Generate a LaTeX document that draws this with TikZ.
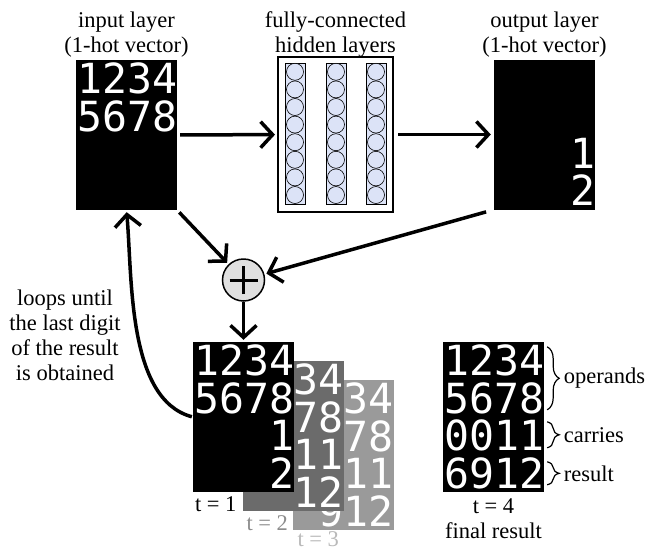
\documentclass[tikz,border=0pt]{standalone}
\usepackage{fontspec}
\setmainfont{Liberation Serif}
\newfontfamily\digitfont{DejaVu Sans Mono}
\usetikzlibrary{arrows.meta, positioning, calc, decorations.pathreplacing}

\definecolor{neuronfill}{HTML}{DCE3F7}
\definecolor{stepdark}{HTML}{6B6B6B}
\definecolor{steplight}{HTML}{9A9A9A}

\begin{document}
\begin{tikzpicture}[
    x=1pt, y=1pt,
    panel/.style={rectangle, fill=black, minimum width=101pt, minimum height=150pt, inner sep=0pt},
    digits/.style={font=\digitfont\fontsize{41.5}{37.5}\selectfont, text=white, inner sep=0pt, anchor=base east},
    caption/.style={font=\fontsize{22.5}{25}\selectfont, align=center, inner sep=1pt},
    neuronbar/.style={rectangle, draw=black, line width=0.6pt, fill=neuronfill, minimum width=20pt, minimum height=141pt, inner sep=0pt},
    neuron/.style={circle, draw=black, line width=0.6pt, fill=neuronfill, minimum size=17pt, inner sep=0pt},
    flow/.style={line width=3.5pt, -{Straight Barb[length=12pt, width=26pt]}},
    brace/.style={decorate, decoration={brace, amplitude=12pt}, line width=1.2pt}
]
\useasboundingbox (0,0) rectangle (645,-552);

% input / output layers
\node[panel] (in)  at (126.5,-135) {};
\node[panel] (out) at (544.5,-134.5) {};
\foreach \row [count=\i] in {1234,5678}
  \node[digits] (in-\i) at ($(in.north east)+(0,-37.5*\i+3.75)$) {\row};
\foreach \row [count=\i] in {{},{},1,2}
  \node[digits] (out-\i) at ($(out.north east)+(0,-37.5*\i+3.75)$) {\row};

% hidden layers
\node[rectangle, draw=black, line width=2pt, minimum width=115pt, minimum height=155pt] (hid) at (335.5,-134.5) {};
\foreach \cx [count=\c] in {295,336,376} {
  \node[neuronbar] (bar-\c) at (\cx,-133.5) {};
  \foreach \k in {1,...,8}
    \node[neuron] (n-\c-\k) at (\cx,{-71.8-17.6*(\k-1)}) {};
}

% captions
\node[caption, above=1pt of in] (in-label) {input layer\\(1-hot vector)};
\node[caption] (hid-label) at (in-label -| hid) {fully-connected\\hidden layers};
\node[caption] (out-label) at (in-label -| out) {output layer\\(1-hot vector)};

% adder
\node[circle, draw=black, line width=1.5pt, fill=gray!25, minimum size=42pt, inner sep=0pt] (plus) at (243.5,-280) {};
\draw[line width=3pt] ($(plus)+(-14,0)$) -- ($(plus)+(14,0)$);
\draw[line width=3pt] ($(plus)+(0,-14)$) -- ($(plus)+(0,14)$);

% steps t = 3, 2, 1
\node[panel, fill=steplight] (t3) at (343,-455) {};
\foreach \row [count=\i] in {1234,5678,011,912}
  \node[digits] (t3-\i) at ($(t3.north east)+(0,-37.5*\i+3.75)$) {\row};
\node[panel, fill=stepdark] (t2) at (293,-436) {};
\foreach \row [count=\i] in {1234,5678,11,12}
  \node[digits] (t2-\i) at ($(t2.north east)+(0,-37.5*\i+3.75)$) {\row};
\node[panel] (t1) at (243.5,-417) {};
\foreach \row [count=\i] in {1234,5678,1,2}
  \node[digits] (t1-\i) at ($(t1.north east)+(0,-37.5*\i+3.75)$) {\row};

\node[caption, anchor=north west] (t1-label) at ($(t1.south west)+(1,-3)$) {t = 1};
\node[caption, anchor=north west, text=gray!90] (t2-label) at ($(t2.south west)+(3,-3)$) {t = 2};
\node[caption, anchor=north west, text=gray!55] (t3-label) at ($(t3.south west)+(4,-0.5)$) {t = 3};

% final result
\node[panel] (fin) at (493.5,-417) {};
\foreach \row [count=\i] in {1234,5678,0011,6912}
  \node[digits] (fin-\i) at ($(fin.north east)+(0,-37.5*\i+3.75)$) {\row};
\node[caption, below=5pt of fin] (fin-label) {t = 4\\final result};

\draw[brace] ($(fin.north east)+(3,-5)$) -- ($(fin.north east)+(3,-68)$)
  node[caption, midway, anchor=west, xshift=15pt] (operands) {operands};
\draw[brace] ($(fin.north east)+(3,-80)$) -- ($(fin.north east)+(3,-106)$)
  node[caption, midway, anchor=west, xshift=15pt] (carries) {carries};
\draw[brace] ($(fin.north east)+(3,-120)$) -- ($(fin.north east)+(3,-143)$)
  node[caption, midway, anchor=west, xshift=15pt] (result) {result};

% loop text
\node[caption] (loop-label) at (65,-335) {loops until\\the last digit\\of the result\\is obtained};

% connections
\draw[flow, shorten <=3pt, shorten >=2pt] (in) -- (hid);
\draw[flow, shorten <=4pt, shorten >=3pt] (hid) -- (out);
\draw[flow, shorten <=3pt, shorten >=2pt] (in.south east) -- (plus);
\draw[flow, shorten <=8pt, shorten >=2pt] (out.south west) -- (plus);
\draw[flow, shorten >=2pt] (plus) -- (t1);
\draw[flow, shorten <=1pt, shorten >=2pt] (t1.west) to[out=165, in=-85, looseness=0.8] (in.south);

\end{tikzpicture}
\end{document}
